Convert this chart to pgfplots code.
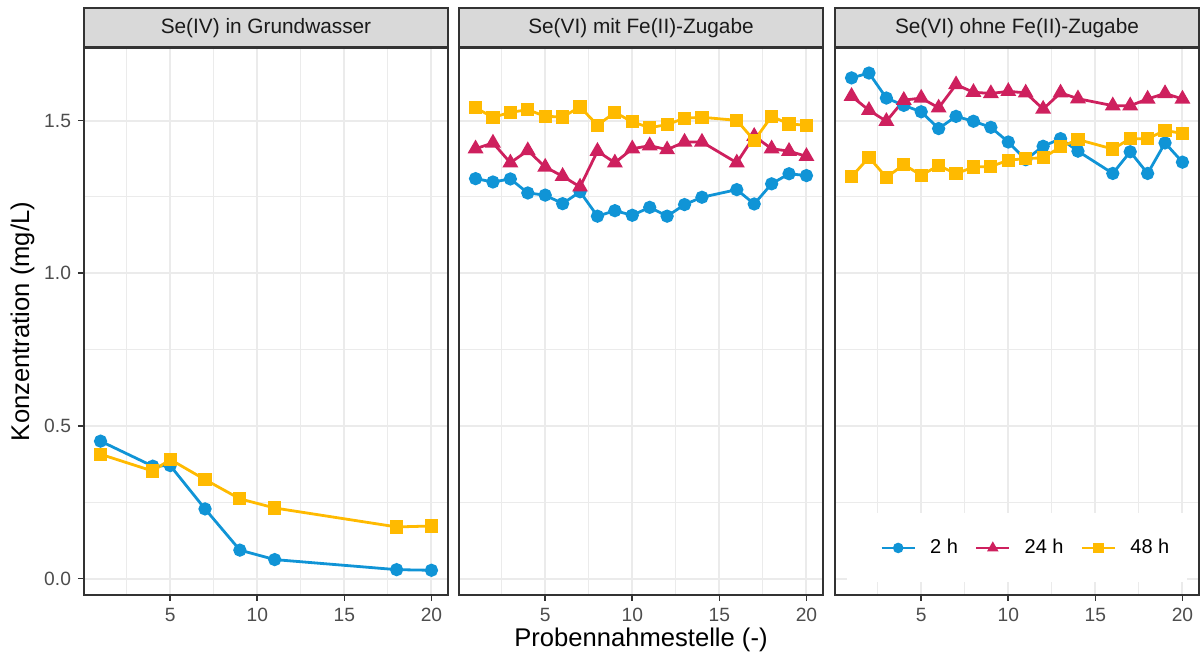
\documentclass[border=0pt]{standalone}
\usepackage{fontspec}
\setmainfont{Liberation Sans}
\usepackage{pgfplots}
\pgfplotsset{compat=1.18}
\definecolor{c2}{RGB}{16,148,214}
\definecolor{c24}{RGB}{206,32,94}
\definecolor{c48}{RGB}{255,186,0}
\definecolor{g92}{RGB}{235,235,235}
\definecolor{g85}{RGB}{217,217,217}
\definecolor{g20}{RGB}{51,51,51}
\definecolor{g30}{RGB}{77,77,77}
\definecolor{g10}{RGB}{26,26,26}

\pgfplotsset{
 panel/.style={
  scale only axis, width=182pt, height=273.5pt,
  xmin=0.05, xmax=20.95, ymin=-0.054, ymax=1.738,
  xtick={5,10,15,20}, ytick={0,0.5,1,1.5},
  minor xtick={2.5,7.5,12.5,17.5}, minor ytick={0.25,0.75,1.25},
  grid=both,
  major grid style={g92, line width=1pt},
  minor grid style={g92, line width=0.5pt},
  axis line style={g20, line width=0.8pt},
  tick align=outside, major tick length=3pt, minor tick length=0pt,
  xtick pos=left, ytick pos=left,
  tick style={g20, line width=0.8pt},
  ticklabel style={font=\fontsize{9.6}{11}\selectfont, text=g30},
  /pgf/number format/assume math mode=true,
  y tick label style={/pgf/number format/.cd, fixed, fixed zerofill, precision=1},
  every axis title shift=0pt,
  title style={at={(0.5,1)}, anchor=south, fill=g85, draw=g20, line width=0.8pt,
    minimum width=182pt, minimum height=19.5pt, inner sep=0pt, yshift=0pt,
    font=\fontsize{10.4}{12}\selectfont, text=g10},
  legend image code/.code={\draw[mark repeat=2,mark phase=2,#1] plot coordinates {(0pt,0pt)(8.25pt,0pt)(16.5pt,0pt)};},
 },
 s2/.style={c2, line width=1.4pt, mark=*, mark size=2.6pt, mark options={solid}},
 s24/.style={c24, line width=1.4pt, mark=triangle*, mark size=3.2pt, mark options={solid}},
 s48/.style={c48, line width=1.4pt, mark=square*, mark size=2.6pt, mark options={solid}},
}

\begin{document}
\begin{tikzpicture}
\path[use as bounding box] (0,0) rectangle (600pt,328.5pt);

% Panel 1
\begin{axis}[panel, at={(42pt,31pt)}, anchor=south west,
  title={Se(IV) in Grundwasser},
  ylabel={Konzentration (mg/L)},
  ylabel style={at={(axis description cs:-0.169,0.5)}, anchor=center, font=\fontsize{12.8}{14}\selectfont, text=black}]
\addplot[s2] coordinates {(1,0.450) (4,0.368) (5,0.370) (7,0.228) (9,0.093) (11,0.062) (18,0.029) (20,0.027)};
\addplot[s48] coordinates {(1,0.407) (4,0.352) (5,0.390) (7,0.324) (9,0.261) (11,0.231) (18,0.169) (20,0.172)};
\end{axis}

% Panel 2
\begin{axis}[panel, at={(229.5pt,31pt)}, anchor=south west,
  title={Se(VI) mit Fe(II)-Zugabe},
  yticklabels={}, ytick style={draw=none},
  xlabel={Probennahmestelle (-)},
  xlabel style={at={(axis description cs:0.5,-0.0823)}, anchor=center, font=\fontsize{12.8}{14}\selectfont, text=black}]
\addplot[s2] coordinates {(1,1.310) (2,1.299) (3,1.309) (4,1.263) (5,1.256) (6,1.228) (7,1.267) (8,1.187) (9,1.205) (10,1.190) (11,1.216) (12,1.187) (13,1.225) (14,1.249) (16,1.274) (17,1.227) (18,1.293) (19,1.326) (20,1.320)};
\addplot[s24] coordinates {(1,1.408) (2,1.427) (3,1.362) (4,1.402) (5,1.348) (6,1.318) (7,1.283) (8,1.400) (9,1.362) (10,1.408) (11,1.418) (12,1.405) (13,1.430) (14,1.430) (16,1.362) (17,1.449) (18,1.408) (19,1.400) (20,1.383)};
\addplot[s48] coordinates {(1,1.542) (2,1.511) (3,1.527) (4,1.536) (5,1.514) (6,1.512) (7,1.545) (8,1.485) (9,1.527) (10,1.496) (11,1.477) (12,1.487) (13,1.508) (14,1.511) (16,1.501) (17,1.435) (18,1.514) (19,1.489) (20,1.485)};
\end{axis}

% Panel 3
\begin{axis}[panel, at={(417.5pt,31pt)}, anchor=south west,
  title={Se(VI) ohne Fe(II)-Zugabe},
  yticklabels={}, ytick style={draw=none},
  legend columns=3,
  legend style={at={(0.527,0.086)}, anchor=center, draw=none, fill=none,
    font=\fontsize{10}{12}\selectfont,
    /tikz/every odd column/.append style={column sep=5pt},
    /tikz/every even column/.append style={column sep=6.5pt}},
  legend image post style={mark size=1.9pt}]
\fill[white] (rel axis cs:0.033,0.024) rectangle (rel axis cs:0.967,0.150);
\addplot[s2] coordinates {(1,1.640) (2,1.656) (3,1.574) (4,1.550) (5,1.529) (6,1.474) (7,1.514) (8,1.498) (9,1.478) (10,1.430) (11,1.372) (12,1.416) (13,1.441) (14,1.400) (16,1.327) (17,1.398) (18,1.327) (19,1.427) (20,1.364)};
\addplot[s24] coordinates {(1,1.580) (2,1.534) (3,1.498) (4,1.567) (5,1.574) (6,1.542) (7,1.618) (8,1.593) (9,1.589) (10,1.596) (11,1.591) (12,1.538) (13,1.591) (14,1.572) (16,1.549) (17,1.549) (18,1.571) (19,1.589) (20,1.571)};
\addplot[s48] coordinates {(1,1.316) (2,1.380) (3,1.314) (4,1.356) (5,1.321) (6,1.353) (7,1.326) (8,1.348) (9,1.350) (10,1.370) (11,1.376) (12,1.378) (13,1.414) (14,1.438) (16,1.407) (17,1.441) (18,1.441) (19,1.468) (20,1.458)};
\legend{2 h, 24 h, 48 h}
\end{axis}
\end{tikzpicture}
\end{document}
